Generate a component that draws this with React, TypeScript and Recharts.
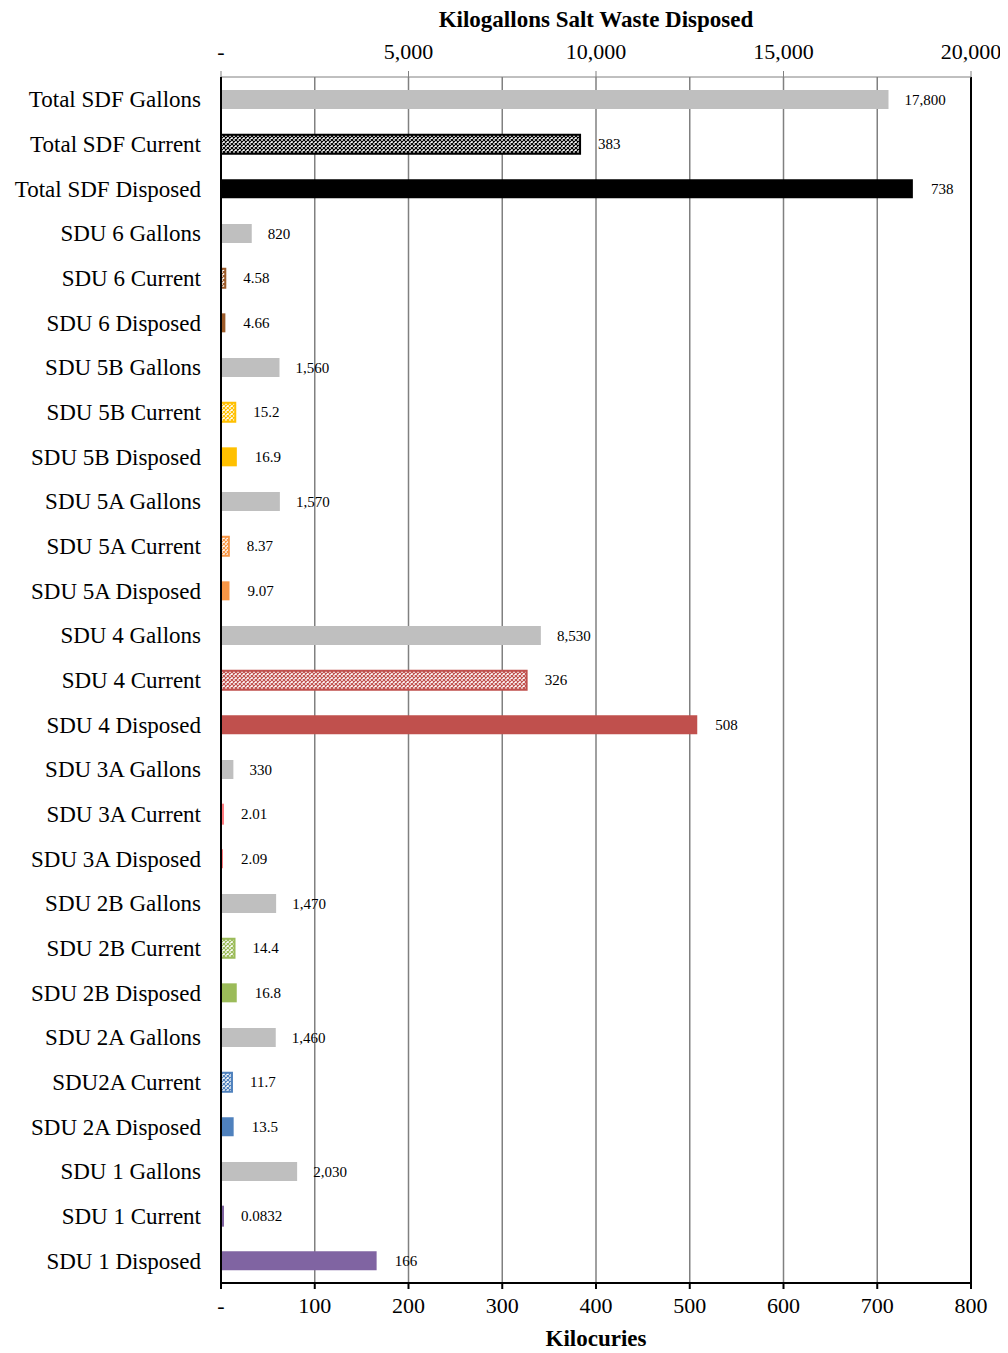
import { BarChart, Bar, XAxis, YAxis, CartesianGrid, Cell, LabelList, ReferenceLine } from 'recharts';

const categories = [
  'Total SDF Gallons', 'Total SDF Current', 'Total SDF Disposed',
  'SDU 6 Gallons', 'SDU 6 Current', 'SDU 6 Disposed',
  'SDU 5B Gallons', 'SDU 5B Current', 'SDU 5B Disposed',
  'SDU 5A Gallons', 'SDU 5A Current', 'SDU 5A Disposed',
  'SDU 4 Gallons', 'SDU 4 Current', 'SDU 4 Disposed',
  'SDU 3A Gallons', 'SDU 3A Current', 'SDU 3A Disposed',
  'SDU 2B Gallons', 'SDU 2B Current', 'SDU 2B Disposed',
  'SDU 2A Gallons', 'SDU2A Current', 'SDU 2A Disposed',
  'SDU 1 Gallons', 'SDU 1 Current', 'SDU 1 Disposed',
];

// kilogallons (top axis)
const gallonsKgal = [17800, 820, 1560, 1570, 8530, 330, 1470, 1460, 2030];
// kilocuries (bottom axis)
const currentKci = [383, 4.58, 15.2, 8.37, 326, 2.01, 14.4, 11.7, 0.0832];
const disposedKci = [738, 4.66, 16.9, 9.07, 508, 2.09, 16.8, 13.5, 166];

const unitColors = ['#000000', '#9C5B2A', '#FFC000', '#F79646', '#C0504D', '#FF7C80', '#9BBB59', '#4F81BD', '#8064A2'];

const topTicks = [0, 5000, 10000, 15000, 20000];
const bottomTicks = [0, 100, 200, 300, 400, 500, 600, 700, 800];

type Row = { name: string; kgal?: number; kci?: number; kind: string; unit: number };

const rows: Row[] = [];
gallonsKgal.forEach((g, i) => {
  rows.push({ name: categories[i * 3], kgal: g, kind: 'gal', unit: i });
  rows.push({ name: categories[i * 3 + 1], kci: currentKci[i], kind: 'cur', unit: i });
  rows.push({ name: categories[i * 3 + 2], kci: disposedKci[i], kind: 'disp', unit: i });
});

const serif = '"Liberation Serif", "Times New Roman", serif';
const dash = (v: number) => (v === 0 ? '-' : v.toLocaleString('en-US'));

export default function App() {
  return (
    <div style={{ width: 1000, height: 1345 }}>
      <BarChart
        width={1000}
        height={1345}
        data={rows}
        layout="vertical"
        margin={{ top: 0, right: 37, bottom: 0, left: 8 }}
        style={{ fontFamily: serif }}
      >
        <defs>
          {unitColors.map((c, i) => (
            <pattern key={i} id={`hatch-${i}`} width={4} height={4} patternUnits="userSpaceOnUse">
              <rect width={4} height={4} fill="#ffffff" />
              <path d="M0,0 L4,4 M4,0 L0,4" stroke={c} strokeWidth={1.2} />
            </pattern>
          ))}
        </defs>
        <CartesianGrid horizontal={false} xAxisId="bottom" yAxisId="cat" stroke="#808080" strokeWidth={1.5} />
        <XAxis
          xAxisId="top"
          orientation="top"
          type="number"
          domain={[0, 20000]}
          ticks={topTicks}
          tickFormatter={dash}
          height={69}
          stroke="#808080"
          tickSize={6}
          tickMargin={12}
          tick={{ fontSize: 22, fill: '#000', fontFamily: serif }}
          label={{ value: 'Kilogallons Salt Waste Disposed', position: 'insideTop', offset: 3, fontSize: 23, fontWeight: 'bold', fill: '#000', fontFamily: serif }}
        />
        <XAxis
          xAxisId="bottom"
          orientation="bottom"
          type="number"
          domain={[0, 800]}
          ticks={bottomTicks}
          tickFormatter={dash}
          height={70}
          axisLine={{ stroke: '#000', strokeWidth: 2 }}
          tickLine={{ stroke: '#000', strokeWidth: 2 }}
          tickSize={6}
          tickMargin={8}
          tick={{ fontSize: 22, fill: '#000', fontFamily: serif }}
          label={{ value: 'Kilocuries', position: 'insideBottom', offset: 7, fontSize: 23, fontWeight: 'bold', fill: '#000', fontFamily: serif }}
        />
        <YAxis
          yAxisId="cat"
          type="category"
          dataKey="name"
          width={205}
          interval={0}
          axisLine={{ stroke: '#000', strokeWidth: 2 }}
          tickLine={false}
          tickSize={0}
          tickMargin={20}
          tick={{ fontSize: 23, fill: '#000', fontFamily: serif }}
        />
        <YAxis yAxisId="cat2" type="category" dataKey="name" hide />
        <ReferenceLine x={800} xAxisId="bottom" yAxisId="cat" stroke="#000" strokeWidth={2} />
        <Bar dataKey="kgal" xAxisId="top" yAxisId="cat" barSize={19} fill="#BFBFBF" isAnimationActive={false}>
          <LabelList
            dataKey="kgal"
            position="right"
            offset={16}
            formatter={(v: any) => (v == null ? '' : Number(v).toLocaleString('en-US'))}
            style={{ fontSize: 15, fill: '#000', fontFamily: serif }}
          />
        </Bar>
        <Bar dataKey="kci" xAxisId="bottom" yAxisId="cat2" barSize={19} minPointSize={2} isAnimationActive={false}>
          {rows.map((r, i) => (
            <Cell
              key={i}
              fill={r.kind === 'cur' ? `url(#hatch-${r.unit})` : unitColors[r.unit]}
              stroke={r.kind === 'cur' ? unitColors[r.unit] : 'none'}
              strokeWidth={r.kind === 'cur' ? 2 : 0}
            />
          ))}
          <LabelList
            dataKey="kci"
            position="right"
            offset={18}
            formatter={(v: any) => (v == null ? '' : String(v))}
            style={{ fontSize: 15, fill: '#000', fontFamily: serif }}
          />
        </Bar>
      </BarChart>
    </div>
  );
}
